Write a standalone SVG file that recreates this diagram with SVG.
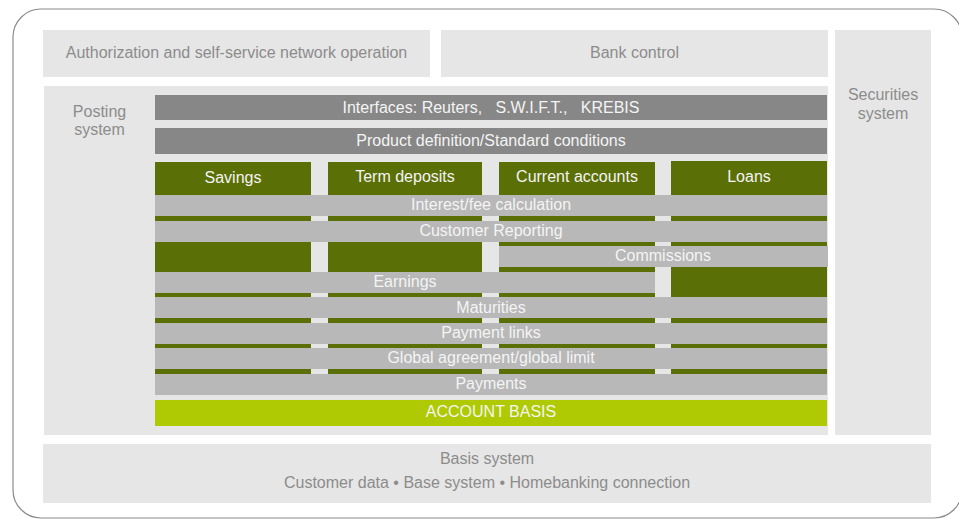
<svg xmlns="http://www.w3.org/2000/svg" width="959" height="519" viewBox="0 0 959 519">
<style>
text{font-family:"Liberation Sans",Arial,sans-serif;font-size:16px;text-anchor:middle}
.box{fill:#e6e6e6}
.lt{fill:#8c8c8c}
.wt{fill:#f4f4f4}
.dk{fill:#878787}
.gr{fill:#b8b8b8}
.green{fill:#5b6f07}
.acc{fill:#afca03}
</style>
<rect x="13" y="9" width="949" height="509" rx="28" ry="28" fill="#ffffff" stroke="#8a8a8a" stroke-width="1.2"/>
<g id="auth">
<rect class="box" x="43" y="30" width="387" height="47"/>
<text class="lt" x="236.5" y="58">Authorization and self-service network operation</text>
</g>
<g id="bankcontrol">
<rect class="box" x="441" y="30" width="387" height="47"/>
<text class="lt" x="634.5" y="58">Bank control</text>
</g>
<g id="securities">
<rect class="box" x="835" y="30" width="96" height="405"/>
<text class="lt" x="883" y="100">Securities</text>
<text class="lt" x="883" y="119">system</text>
</g>
<g id="posting">
<rect class="box" x="44" y="86" width="784" height="349"/>
<text class="lt" x="99.5" y="117">Posting</text>
<text class="lt" x="99.5" y="135">system</text>
</g>
<g id="interfaces">
<rect class="dk" x="155" y="95" width="672" height="25"/>
<text class="wt" x="491" y="113" style="white-space:pre">Interfaces: Reuters,   S.W.I.F.T.,   KREBIS</text>
</g>
<g id="productdef">
<rect class="dk" x="155" y="128" width="672" height="26"/>
<text class="wt" x="491" y="146">Product definition/Standard conditions</text>
</g>
<g id="savings">
<rect class="green" x="155" y="162" width="156" height="212"/>
<text class="wt" x="233" y="183">Savings</text>
</g>
<g id="termdeposits">
<rect class="green" x="328" y="162" width="154" height="212"/>
<text class="wt" x="405" y="182">Term deposits</text>
</g>
<g id="currentaccounts">
<rect class="green" x="499" y="162" width="156" height="212"/>
<text class="wt" x="577" y="182">Current accounts</text>
</g>
<g id="loans">
<rect class="green" x="671" y="161" width="156" height="213"/>
<text class="wt" x="749" y="182">Loans</text>
</g>
<g id="interest">
<rect class="gr" x="155" y="195" width="672" height="21"/>
<text class="wt" x="491" y="210">Interest/fee calculation</text>
</g>
<g id="reporting">
<rect class="gr" x="155" y="221" width="672" height="21"/>
<text class="wt" x="491" y="236">Customer Reporting</text>
</g>
<g id="commissions">
<rect class="gr" x="499" y="246" width="329" height="21"/>
<text class="wt" x="663" y="261">Commissions</text>
</g>
<g id="earnings">
<rect class="gr" x="155" y="272" width="500" height="21"/>
<text class="wt" x="405" y="287">Earnings</text>
</g>
<g id="maturities">
<rect class="gr" x="155" y="297" width="672" height="21"/>
<text class="wt" x="491" y="312.5">Maturities</text>
</g>
<g id="paymentlinks">
<rect class="gr" x="155" y="323" width="672" height="21"/>
<text class="wt" x="491" y="338">Payment links</text>
</g>
<g id="globalagreement">
<rect class="gr" x="155" y="348" width="672" height="21"/>
<text class="wt" x="491" y="363">Global agreement/global limit</text>
</g>
<g id="payments">
<rect class="gr" x="155" y="374" width="672" height="21"/>
<text class="wt" x="491" y="389">Payments</text>
</g>
<g id="accountbasis">
<rect class="acc" x="155" y="400" width="672" height="26"/>
<text class="wt" x="491" y="417">ACCOUNT BASIS</text>
</g>
<g id="basis">
<rect class="box" x="43" y="444" width="888" height="59"/>
<text class="lt" x="487" y="464">Basis system</text>
<text class="lt" x="487" y="488">Customer data • Base system • Homebanking connection</text>
</g>
</svg>
